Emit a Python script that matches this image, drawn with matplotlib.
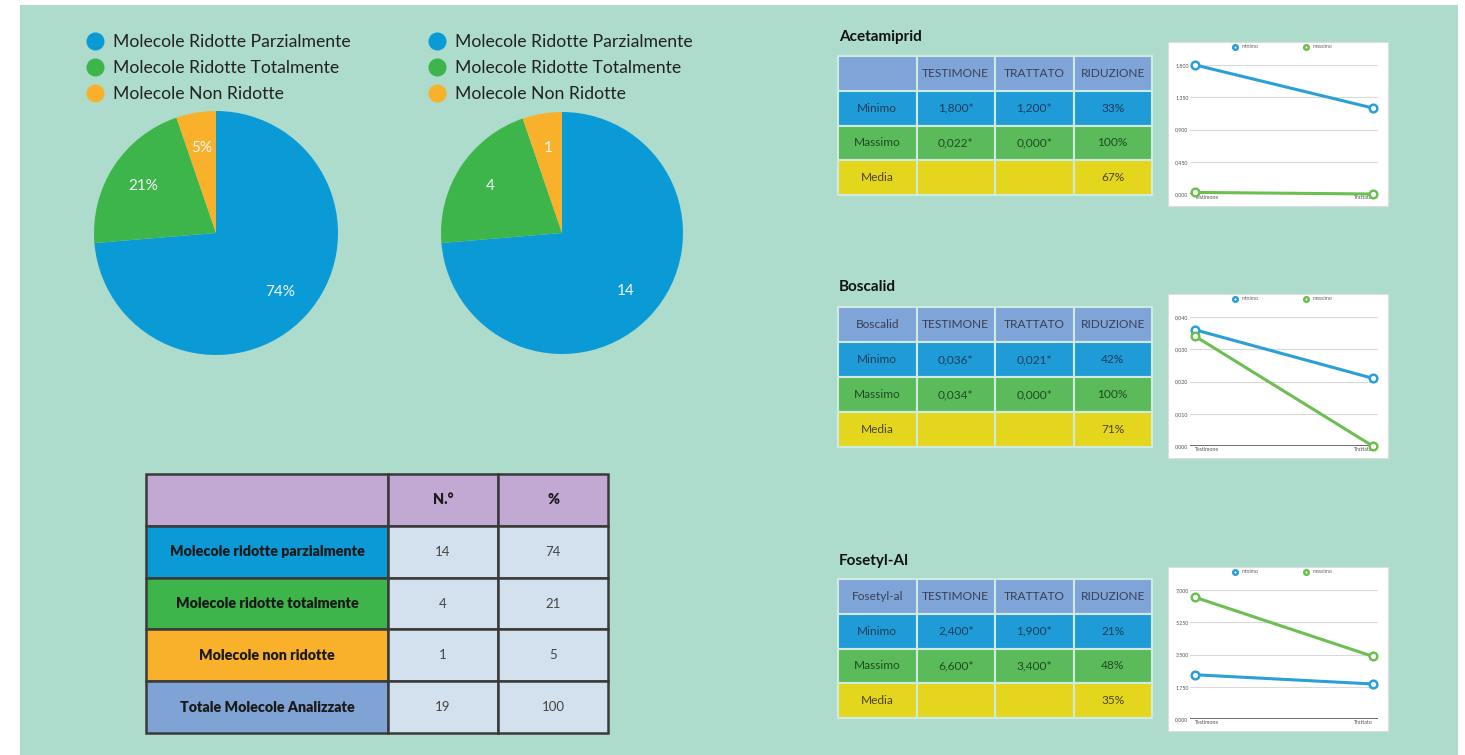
import matplotlib
matplotlib.use('Agg')
import matplotlib.pyplot as plt
from matplotlib.patches import Rectangle
from matplotlib.lines import Line2D
import numpy as np

# ---------------- data ----------------
pie_labels = ['Molecole Ridotte Parzialmente', 'Molecole Ridotte Totalmente', 'Molecole Non Ridotte']
pie_counts = [14, 4, 1]

summary_rows = ['Molecole ridotte parzialmente', 'Molecole ridotte totalmente',
                'Molecole non ridotte', 'Totale Molecole Analizzate']
summary_n = [14, 4, 1, 19]
summary_pct = [74, 21, 5, 100]
summary_header = ['', 'N.°', '%']

molecules = ['Acetamiprid', 'Boscalid', 'Fosetyl-Al']
corner_labels = ['', 'Boscalid', 'Fosetyl-al']
col_header = ['TESTIMONE', 'TRATTATO', 'RIDUZIONE']
row_names = ['Minimo', 'Massimo', 'Media']
testimone_min = [1.800, 0.036, 2.400]
trattato_min = [1.200, 0.021, 1.900]
testimone_max = [0.022, 0.034, 6.600]
trattato_max = [0.000, 0.000, 3.400]
riduzione_min = [33, 42, 21]
riduzione_max = [100, 100, 48]
riduzione_media = [67, 71, 35]
chart_ymax = [1.8, 0.04, 7.0]
chart_xlabels = ['Testimone', 'Trattato']
chart_series = ['minimo', 'massimo']

# ---------------- style ----------------
W, H = 1465, 755
plt.rcParams['font.family'] = ['Lato', 'DejaVu Sans']
MINT = '#addccd'
BLUE = '#0a9bd7'
GREEN = '#3db54b'
ORANGE = '#f9b12b'
LINE_BLUE = '#2a9fd8'
LINE_GREEN = '#6cbf50'

fig = plt.figure(figsize=(W / 100, H / 100), dpi=100, facecolor='white')


def px_axes(x0, y0, x1, y1, **kw):
    return fig.add_axes([x0 / W, 1 - y1 / H, (x1 - x0) / W, (y1 - y0) / H], **kw)


fig.patches.append(Rectangle((20 / W, 0), (1458 - 20) / W, (755 - 5) / H,
                             transform=fig.transFigure, facecolor=MINT,
                             edgecolor='none', zorder=-2))

pie_colors = [BLUE, GREEN, ORANGE]
total = sum(pie_counts)

# ---------------- pies ----------------
pie_boxes = [(94, 111, 338, 355), (441, 112, 683, 354)]
legend_anchor = [(86, 34), (428, 34)]
for k, box in enumerate(pie_boxes):
    ax = px_axes(*box)
    if k == 0:
        fmt = '%.0f%%'
    else:
        fmt = lambda p: f'{round(p * total / 100)}'
    wedges, texts, autotexts = ax.pie(pie_counts, colors=pie_colors, startangle=90,
                                      counterclock=False, autopct=fmt, pctdistance=0.71,
                                      wedgeprops=dict(linewidth=0))
    for t in autotexts:
        t.set_color('#f4f8f8')
        t.set_fontsize(11)
    ax.set_xlim(-1, 1)
    ax.set_ylim(-1, 1)
    handles = [Line2D([], [], marker='o', linestyle='none', markersize=13,
                      markerfacecolor=c, markeredgecolor='none') for c in pie_colors]
    fig.legend(handles, pie_labels, loc='upper left',
               bbox_to_anchor=(legend_anchor[k][0] / W, 1 - legend_anchor[k][1] / H),
               frameon=False, fontsize=12.7, handlelength=1.0, handletextpad=0.55,
               labelspacing=0.56, borderpad=0, borderaxespad=0, labelcolor='#222222')

# ---------------- summary table ----------------
ax = px_axes(146, 474, 608, 733)
ax.axis('off')
cell_text = [summary_header] + [[summary_rows[i], str(summary_n[i]), str(summary_pct[i])]
                                for i in range(len(summary_rows))]
row_first_colors = [BLUE, GREEN, ORANGE, '#7fa3d4']
cell_colors = [['#c2a9d3'] * 3] + [[row_first_colors[i], '#d3e0ee', '#d3e0ee']
                                   for i in range(len(summary_rows))]
tbl = ax.table(cellText=cell_text, cellColours=cell_colors,
               colWidths=[242 / 462, 110 / 462, 110 / 462], bbox=[0, 0, 1, 1],
               cellLoc='center')
tbl.auto_set_font_size(False)
for (r, c), cell in tbl.get_celld().items():
    cell.set_edgecolor('#3a3a3a')
    cell.set_linewidth(1.8)
    txt = cell.get_text()
    if r == 0 or c == 0:
        txt.set_fontweight('heavy')
        txt.set_fontsize(10.3)
        txt.set_color('#1a1a1a')
    else:
        txt.set_fontsize(9.5)
        txt.set_color('#444444')

# ---------------- molecule tables ----------------
title_y = [37, 287, 561]
table_boxes = [(838, 56, 1152, 195), (838, 307, 1152, 447), (838, 579, 1152, 718)]
row_colors = ['#7fa4d8', '#1f9bd8', '#5bbb5a', '#e4d61c']
text_colors = ['#3a3f55', '#1e3d5a', '#1f4a22', '#4a4420']


def fmt_val(v):
    return f'{v:.3f}*'.replace('.', ',')


for m in range(len(molecules)):
    fig.text(839 / W, 1 - title_y[m] / H, molecules[m], fontsize=11, fontweight='bold',
             color='#111111', ha='left', va='center')
    ax = px_axes(*table_boxes[m])
    ax.axis('off')
    data = [[corner_labels[m]] + col_header,
            [row_names[0], fmt_val(testimone_min[m]), fmt_val(trattato_min[m]), f'{riduzione_min[m]}%'],
            [row_names[1], fmt_val(testimone_max[m]), fmt_val(trattato_max[m]), f'{riduzione_max[m]}%'],
            [row_names[2], '', '', f'{riduzione_media[m]}%']]
    colors = [[row_colors[i]] * 4 for i in range(4)]
    tb = ax.table(cellText=data, cellColours=colors, bbox=[0, 0, 1, 1], cellLoc='center')
    tb.auto_set_font_size(False)
    for (r, c), cell in tb.get_celld().items():
        cell.set_edgecolor('#cfeadf')
        cell.set_linewidth(1.5)
        cell.get_text().set_fontsize(8.6)
        cell.get_text().set_color(text_colors[r])

# ---------------- line charts ----------------
chart_boxes = [(1168, 42, 1388, 206), (1168, 294, 1388, 458), (1168, 567, 1388, 731)]
for m in range(len(molecules)):
    x0, y0, x1, y1 = chart_boxes[m]
    fig.patches.append(Rectangle((x0 / W, 1 - y1 / H), (x1 - x0) / W, (y1 - y0) / H,
                                 transform=fig.transFigure, facecolor='white',
                                 edgecolor='#dddddd', linewidth=0.8, zorder=-1))
    ax = px_axes(1190, y0 + 23, 1378, y1 - 12)
    ax.set_facecolor('none')
    ymax = chart_ymax[m]
    xs = [0, 1]
    ax.plot(xs, [testimone_min[m], trattato_min[m]], color=LINE_BLUE, lw=2.2,
            marker='o', markersize=5.5, markerfacecolor='white', markeredgewidth=1.8,
            label=chart_series[0], zorder=4, clip_on=False)
    ax.plot(xs, [testimone_max[m], trattato_max[m]], color=LINE_GREEN, lw=2.2,
            marker='o', markersize=5.5, markerfacecolor='white', markeredgewidth=1.8,
            label=chart_series[1], zorder=4, clip_on=False)
    ticks = np.linspace(0, ymax, 5)
    ax.set_yticks(ticks)
    ax.set_yticklabels([f'{t:.3f}'.replace('.', ',') for t in ticks])
    ax.set_ylim(0, ymax)
    ax.set_xlim(-0.03, 1.03)
    ax.set_xticks(xs)
    ax.set_xticklabels(chart_xlabels)
    ax.tick_params(length=0, labelsize=3.8, labelcolor='#555555', pad=1)
    for lbl, ha in zip(ax.get_xticklabels(), ['left', 'right']):
        lbl.set_ha(ha)
    for sp in ax.spines.values():
        sp.set_visible(False)
    ax.grid(axis='y', color='#d9d9d9', linewidth=0.8)
    ax.axhline(0, color='#555555', linewidth=1.2, zorder=2)
    ax.legend(loc='center', bbox_to_anchor=(0.5, 1.14), ncol=2, frameon=False,
              fontsize=3.8, handlelength=0, markerscale=0.6, columnspacing=9,
              handletextpad=1.2, borderpad=0, labelcolor='#666666')

fig.savefig('out.png', dpi=100, facecolor=fig.get_facecolor())
